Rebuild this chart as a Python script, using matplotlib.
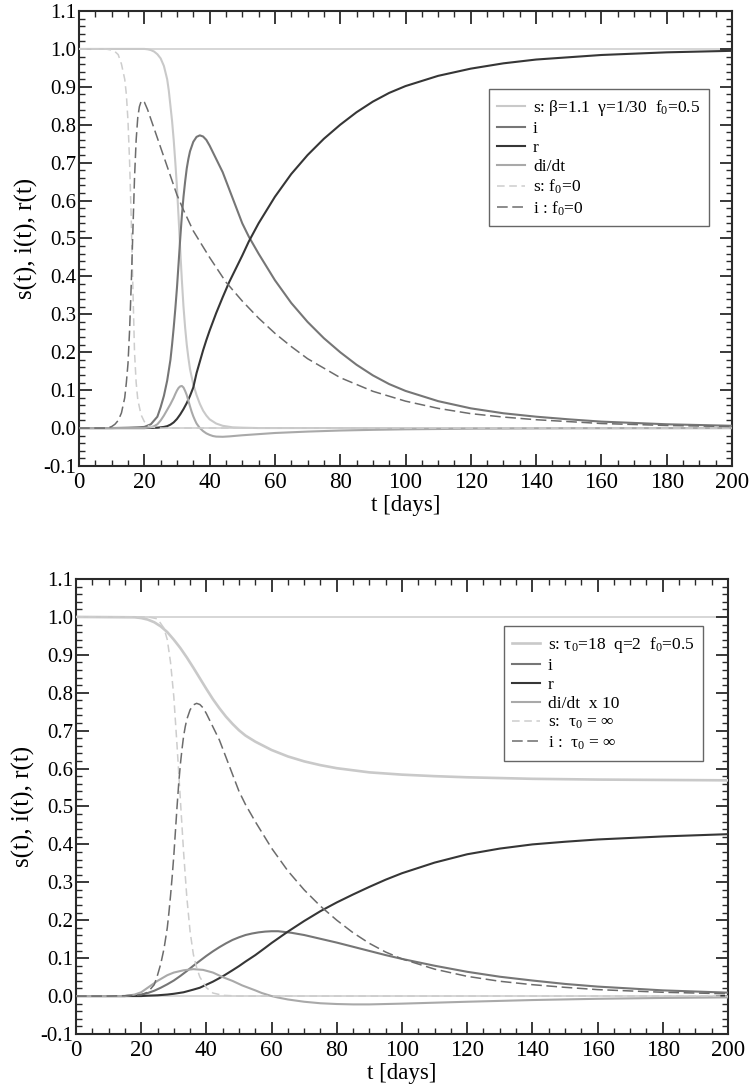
import matplotlib
matplotlib.use("Agg")
import matplotlib.pyplot as plt
from matplotlib.ticker import MultipleLocator, FormatStrFormatter

plt.rcParams['font.family'] = ['Liberation Serif', 'DejaVu Serif']
plt.rcParams['mathtext.fontset'] = 'custom'
plt.rcParams['mathtext.rm'] = 'Liberation Serif'
plt.rcParams['mathtext.it'] = 'Liberation Serif'
plt.rcParams['mathtext.bf'] = 'Liberation Serif'

# ---------------- top panel data (beta=1.1, gamma=1/30, f0=0.5) ----------------
t_s_top = [0, 20, 21, 22, 23, 24, 25, 26, 27, 27.5, 28, 28.5, 29, 29.5, 30, 30.5, 31, 31.5, 32,
           32.5, 33, 33.5, 34, 35, 36, 37, 38, 39, 40, 42, 44, 47, 50, 55, 200]
s_top = [1.0, 1.0, 0.999, 0.997, 0.993, 0.986, 0.975, 0.955, 0.92, 0.89, 0.85, 0.81, 0.76, 0.70,
         0.635, 0.555, 0.47, 0.39, 0.32, 0.265, 0.22, 0.185, 0.155, 0.115, 0.087, 0.064, 0.046,
         0.033, 0.023, 0.012, 0.006, 0.002, 0.001, 0.0, 0.0]

t_i_top = [0, 10, 15, 18, 20, 22, 24, 25, 26, 27, 28, 28.5, 29, 29.5, 30, 30.5, 31, 31.5, 32,
           32.5, 33, 33.5, 34, 35, 36, 37, 38, 39, 40, 42, 44, 46, 48, 50, 52, 55, 60, 65, 70,
           75, 80, 85, 90, 95, 100, 110, 120, 130, 140, 150, 160, 180, 200]
i_top = [0.0, 0.0, 0.001, 0.002, 0.003, 0.01, 0.03, 0.055, 0.085, 0.125, 0.18, 0.22, 0.265,
         0.315, 0.37, 0.435, 0.50, 0.56, 0.61, 0.65, 0.685, 0.71, 0.73, 0.755, 0.768, 0.772,
         0.769, 0.76, 0.745, 0.71, 0.675, 0.63, 0.585, 0.54, 0.505, 0.46, 0.39, 0.33, 0.28,
         0.237, 0.2, 0.167, 0.139, 0.116, 0.098, 0.071, 0.052, 0.039, 0.03, 0.023, 0.017,
         0.01, 0.006]

t_r_top = [0, 20, 24, 26, 27, 28, 29, 30, 31, 32, 33, 34, 35, 36, 37, 38, 39, 40, 42, 44, 46,
           48, 50, 52, 55, 60, 65, 70, 75, 80, 85, 90, 95, 100, 110, 120, 130, 140, 160, 180,
           200]
r_top = [0.0, 0.0, 0.001, 0.003, 0.005, 0.009, 0.015, 0.024, 0.036, 0.05, 0.066, 0.085, 0.107,
         0.145, 0.175, 0.205, 0.232, 0.257, 0.303, 0.345, 0.385, 0.42, 0.455, 0.492, 0.54, 0.61,
         0.67, 0.72, 0.763, 0.8, 0.833, 0.861, 0.884, 0.902, 0.929, 0.948, 0.962, 0.972,
         0.984, 0.991, 0.995]

t_d_top = [0, 20, 22, 23, 24, 25, 26, 27, 28, 29, 29.5, 30, 30.5, 31, 31.5, 32, 32.5, 33, 33.5,
           34, 34.5, 35, 35.5, 36, 37, 38, 39, 40, 41, 42, 44, 46, 50, 55, 60, 70, 80, 90, 100,
           120, 150, 200]
d_top = [0.0, 0.0, 0.002, 0.005, 0.01, 0.02, 0.033, 0.048, 0.063, 0.08, 0.09, 0.099, 0.106,
         0.11, 0.111, 0.107, 0.098, 0.087, 0.072, 0.057, 0.043, 0.031, 0.021, 0.012, 0.0,
         -0.008, -0.014, -0.018, -0.021, -0.0225, -0.023, -0.022, -0.019, -0.016, -0.013,
         -0.0093, -0.0065, -0.0047, -0.0033, -0.0017, -0.0007, -0.0001]

t_s0_top = [0, 8, 10, 11, 12, 13, 14, 14.5, 15, 15.5, 16, 16.5, 17, 17.5, 18, 19, 20, 21, 22,
            25, 200]
s0_top = [1.0, 1.0, 0.997, 0.993, 0.985, 0.96, 0.92, 0.88, 0.81, 0.70, 0.55, 0.37, 0.20, 0.12,
          0.075, 0.035, 0.017, 0.007, 0.003, 0.0, 0.0]

t_i0_top = [0, 8, 9, 10, 11, 12, 13, 14, 14.5, 15, 15.5, 16, 16.5, 17, 17.5, 18, 18.5, 19, 19.5,
            20, 21, 22, 24, 26, 28, 30, 32, 35, 40, 45, 50, 55, 60, 65, 70, 80, 90, 100, 110,
            120, 130, 140, 160, 180, 200]
i0_top = [0.0, 0.0, 0.001, 0.004, 0.01, 0.02, 0.04, 0.08, 0.12, 0.17, 0.26, 0.38, 0.52, 0.66,
          0.76, 0.82, 0.848, 0.861, 0.864, 0.86, 0.84, 0.815, 0.765, 0.715, 0.665, 0.615,
          0.575, 0.52, 0.45, 0.385, 0.335, 0.29, 0.25, 0.215, 0.183, 0.133, 0.097, 0.071,
          0.052, 0.038, 0.029, 0.022, 0.012, 0.0068, 0.004]

# ---------------- bottom panel data (tau0=18, q=2, f0=0.5) ----------------
t_s_bot = [0, 18, 20, 22, 24, 26, 28, 30, 32, 34, 36, 38, 40, 42, 44, 46, 48, 50, 52, 55, 60,
           65, 70, 75, 80, 90, 100, 110, 120, 140, 160, 180, 200]
s_bot = [1.0, 0.999, 0.997, 0.993, 0.986, 0.975, 0.96, 0.94, 0.918, 0.893, 0.866, 0.838, 0.81,
         0.783, 0.759, 0.737, 0.718, 0.701, 0.687, 0.671, 0.649, 0.632, 0.619, 0.609, 0.601,
         0.59, 0.584, 0.58, 0.577, 0.573, 0.571, 0.57, 0.569]

t_i_bot = [0, 15, 20, 22, 24, 26, 28, 30, 32, 34, 36, 38, 40, 42, 44, 46, 48, 50, 52, 54, 56,
           58, 60, 62, 64, 66, 70, 75, 80, 85, 90, 95, 100, 110, 120, 130, 140, 150, 160, 180,
           200]
i_bot = [0.0, 0.0, 0.004, 0.008, 0.014, 0.022, 0.031, 0.041, 0.053, 0.066, 0.08, 0.093, 0.106,
         0.118, 0.129, 0.139, 0.148, 0.155, 0.161, 0.165, 0.168, 0.17, 0.171, 0.171, 0.169,
         0.167, 0.161, 0.151, 0.141, 0.13, 0.119, 0.108, 0.098, 0.08, 0.064, 0.051, 0.041,
         0.032, 0.025, 0.015, 0.009]

t_r_bot = [0, 20, 22, 25, 28, 30, 33, 36, 38, 40, 42, 45, 48, 50, 52, 55, 58, 60, 65, 70, 75,
           80, 85, 90, 95, 100, 110, 120, 130, 140, 150, 160, 180, 200]
r_bot = [0.0, 0.0, 0.001, 0.002, 0.004, 0.006, 0.01, 0.017, 0.022, 0.03, 0.038, 0.052, 0.068,
         0.079, 0.091, 0.108, 0.127, 0.14, 0.17, 0.198, 0.224, 0.247, 0.268, 0.288, 0.307,
         0.324, 0.352, 0.374, 0.389, 0.4, 0.407, 0.413, 0.421, 0.427]

t_d_bot = [0, 15, 18, 20, 22, 25, 28, 30, 33, 36, 39, 42, 45, 48, 51, 55, 57, 60, 62, 65, 70,
           75, 80, 85, 90, 100, 120, 140, 160, 180, 200]
d_bot = [0.0, 0.0, 0.004, 0.01, 0.022, 0.04, 0.055, 0.062, 0.068, 0.071, 0.069, 0.062, 0.05,
         0.04, 0.028, 0.015, 0.008, 0.0, -0.004, -0.009, -0.015, -0.019, -0.021, -0.022,
         -0.022, -0.02, -0.015, -0.0105, -0.0072, -0.005, -0.0035]

# reference (tau0 = infinity) curves
t_sinf_bot = [0, 22, 25, 27, 28, 29, 30, 31, 32, 33, 34, 35, 36, 37, 38, 40, 42, 45, 50, 200]
sinf_bot = [1.0, 1.0, 0.995, 0.97, 0.94, 0.88, 0.79, 0.66, 0.52, 0.38, 0.26, 0.17, 0.11, 0.075,
            0.05, 0.022, 0.008, 0.002, 0.0, 0.0]
t_iinf_bot = t_i_top
iinf_bot = i_top

top_labels = ['s: β=1.1  γ=1/30  f$_0$=0.5', 'i', 'r', 'di/dt', 's: f$_0$=0', 'i : f$_0$=0']
bot_labels = ['s: τ$_0$=18  q=2  f$_0$=0.5', 'i', 'r', 'di/dt  x 10', 's:  τ$_0$ = ∞',
              'i :  τ$_0$ = ∞']

C_S = '#c9c9c9'
C_I = '#767676'
C_R = '#363636'
C_D = '#a9a9a9'
C_S0 = '#cdcdcd'
C_I0 = '#6c6c6c'
C_REF = '#cfcfcf'
SPINE = '#2a2a2a'

fig = plt.figure(figsize=(7.54, 10.9), dpi=100)
ax1 = fig.add_axes([0.1048, 0.5725, 0.8660, 0.4174])
ax2 = fig.add_axes([0.1008, 0.0514, 0.8647, 0.4174])


def style(ax):
    ax.set_xlim(0, 200)
    ax.set_ylim(-0.1, 1.1)
    ax.xaxis.set_major_locator(MultipleLocator(20))
    ax.xaxis.set_minor_locator(MultipleLocator(5))
    ax.yaxis.set_major_locator(MultipleLocator(0.1))
    ax.yaxis.set_minor_locator(MultipleLocator(0.02))
    ax.yaxis.set_major_formatter(FormatStrFormatter('%.1f'))
    ax.xaxis.set_major_formatter(FormatStrFormatter('%d'))
    ax.tick_params(which='both', direction='in', top=True, right=True, color=SPINE)
    ax.tick_params(which='major', length=9, width=1.3)
    ax.tick_params(which='minor', length=4.5, width=1.0)
    ax.tick_params(axis='y', which='major', labelsize=15, pad=2)
    ax.tick_params(axis='x', which='major', labelsize=16.5, pad=4)
    for sp in ax.spines.values():
        sp.set_linewidth(1.5)
        sp.set_color(SPINE)
    ax.axhline(1.0, color=C_REF, lw=1.2, zorder=1)
    ax.axhline(0.0, color=C_REF, lw=1.2, zorder=1)
    ax.set_xlabel('t [days]', fontsize=16.5, labelpad=2)
    ax.set_ylabel('s(t), i(t), r(t)', fontsize=18, labelpad=4)


style(ax1)
style(ax2)

lw = 1.5
leg_kw = dict(loc='upper right', bbox_transform=fig.transFigure, fontsize=12.5, frameon=True,
              fancybox=False, edgecolor='#404040', handlelength=1.6, handletextpad=0.45,
              labelspacing=0.17, borderpad=0.5, borderaxespad=0)

# top
l1, = ax1.plot(t_s_top, s_top, color=C_S, lw=lw, zorder=3)
l2, = ax1.plot(t_i_top, i_top, color=C_I, lw=lw, zorder=3)
l3, = ax1.plot(t_r_top, r_top, color=C_R, lw=lw, zorder=3)
l4, = ax1.plot(t_d_top, d_top, color=C_D, lw=lw, zorder=3)
l5, = ax1.plot(t_s0_top, s0_top, color=C_S0, lw=1.1, ls=(0, (5, 3)), zorder=3)
l6, = ax1.plot(t_i0_top, i0_top, color=C_I0, lw=1.1, ls=(0, (7, 3)), zorder=3)
leg1 = ax1.legend([l1, l2, l3, l4, l5, l6], top_labels, bbox_to_anchor=(0.9403, 0.9183),
                  **leg_kw)
leg1.get_frame().set_linewidth(1.0)

# bottom
m1, = ax2.plot(t_s_bot, s_bot, color=C_S, lw=lw + 0.4, zorder=3)
m2, = ax2.plot(t_i_bot, i_bot, color=C_I, lw=lw, zorder=3)
m3, = ax2.plot(t_r_bot, r_bot, color=C_R, lw=lw, zorder=3)
m4, = ax2.plot(t_d_bot, d_bot, color=C_D, lw=lw, zorder=3)
m5, = ax2.plot(t_sinf_bot, sinf_bot, color=C_S0, lw=1.1, ls=(0, (5, 3)), zorder=3)
m6, = ax2.plot(t_iinf_bot, iinf_bot, color=C_I0, lw=1.1, ls=(0, (7, 3)), zorder=3)
leg2 = ax2.legend([m1, m2, m3, m4, m5, m6], bot_labels, bbox_to_anchor=(0.9324, 0.4257),
                  **leg_kw)
leg2.get_frame().set_linewidth(1.0)

fig.savefig('out.png', dpi=100)
